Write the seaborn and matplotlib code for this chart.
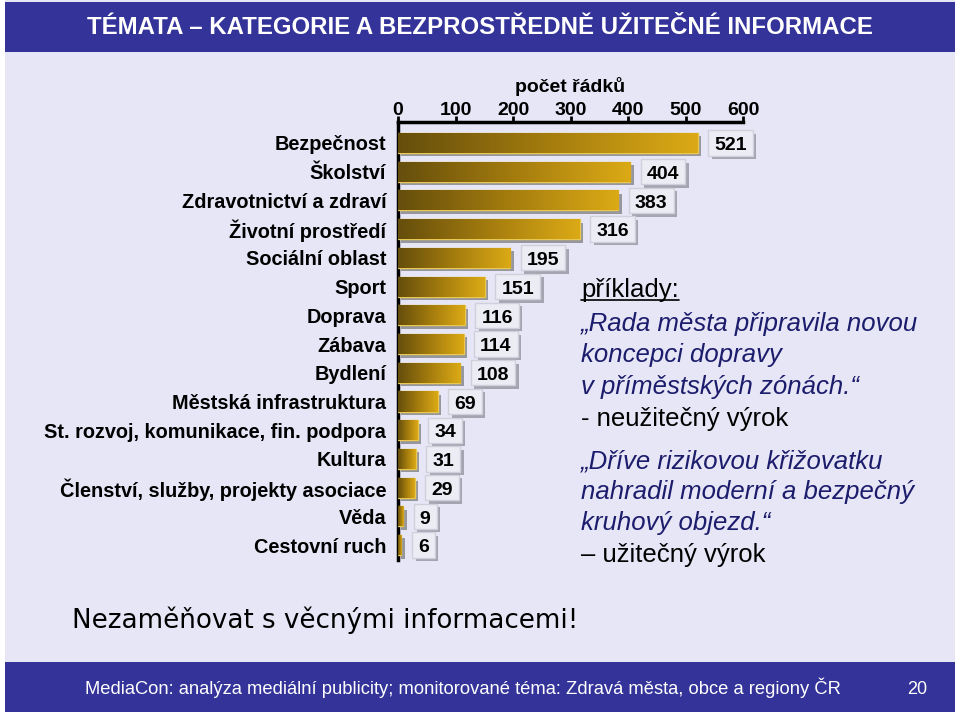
import numpy as np
import pandas as pd
import matplotlib
matplotlib.use("Agg")
import matplotlib.pyplot as plt
import seaborn as sns
from matplotlib.patches import Rectangle
from matplotlib.colors import LinearSegmentedColormap
import matplotlib.patheffects as pe
from matplotlib.lines import Line2D

# ---------------- data ----------------
categories = ["Bezpečnost", "Školství", "Zdravotnictví a zdraví", "Životní prostředí",
              "Sociální oblast", "Sport", "Doprava", "Zábava", "Bydlení",
              "Městská infrastruktura", "St. rozvoj, komunikace, fin. podpora",
              "Kultura", "Členství, služby, projekty asociace", "Věda", "Cestovní ruch"]
values = [521, 404, 383, 316, 195, 151, 116, 114, 108, 69, 34, 31, 29, 9, 6]
x_ticks = [0, 100, 200, 300, 400, 500, 600]
axis_title = "počet řádků"
slide_title = "TÉMATA – KATEGORIE A BEZPROSTŘEDNĚ UŽITEČNÉ INFORMACE"
note_heading = "příklady:"
quote1 = ["„Rada města připravila novou", "koncepci dopravy", "v příměstských zónách.“"]
verdict1 = "- neužitečný výrok"
quote2 = ["„Dříve rizikovou křižovatku", "nahradil moderní a bezpečný", "kruhový objezd.“"]
verdict2 = "– užitečný výrok"
warning = "Nezaměňovat s věcnými informacemi!"
footer = "MediaCon: analýza mediální publicity; monitorované téma: Zdravá města, obce a regiony ČR"
page_no = "20"

# ---------------- style ----------------
sns.set_theme(style="white")
plt.rcParams['font.family'] = ['Liberation Sans', 'DejaVu Sans']
plt.rcParams['text.color'] = 'black'
plt.rcParams['axes.labelcolor'] = 'black'
plt.rcParams['xtick.color'] = 'black'
plt.rcParams['ytick.color'] = 'black'

W, H = 960, 716
BLUE = "#333399"
LAV = "#E6E6F6"
NAVY = "#1c1c6c"

fig = plt.figure(figsize=(W / 100, H / 100), dpi=100, facecolor="white")


def frect(x0, y0, x1, y1, color):
    fig.patches.append(Rectangle((x0 / W, 1 - y1 / H), (x1 - x0) / W, (y1 - y0) / H,
                                 transform=fig.transFigure, facecolor=color,
                                 edgecolor="none", zorder=-10))


frect(5, 0, 955, 662, LAV)
frect(5, 2, 955, 52, BLUE)
frect(5, 662, 955, 712, BLUE)

fig.text(480 / W, 1 - 27 / H, slide_title, color="white", fontsize=17.3,
         fontweight="bold", ha="center", va="center")
fig.text(85 / W, 1 - 688 / H, footer, color="white", fontsize=13.2,
         ha="left", va="center")
fig.text(917 / W, 1 - 690 / H, page_no, color="white", fontsize=13,
         ha="center", va="center")
fig.text(72 / W, 1 - 620 / H, warning, color="black", fontsize=18.8,
         ha="left", va="center", family=["DejaVu Sans"])

# ---------------- chart ----------------
ax = fig.add_axes([398 / W, 1 - 560 / H, 345 / W, 438 / H])
ax.set_facecolor("none")

df = pd.DataFrame({"kategorie": categories, "pocet": values})
sns.barplot(data=df, x="pocet", y="kategorie", orient="h", color="#c8960f",
            width=0.7, ax=ax, zorder=3, edgecolor="#e8c850", linewidth=1.0)

cmap = LinearSegmentedColormap.from_list("gold", ["#654e0c", "#a47c0e", "#dcaa16"])
grad = np.linspace(0, 1, 256).reshape(1, -1)
for p in ax.patches:
    p.set_path_effects([pe.SimplePatchShadow(offset=(2.5, -2.5), shadow_rgbFace="#555555",
                                             alpha=0.55), pe.Normal()])
    x, y, w, h = p.get_x(), p.get_y(), p.get_width(), p.get_height()
    im = ax.imshow(grad, cmap=cmap, extent=[x, x + w, y + h, y], aspect="auto",
                   zorder=3.5, interpolation="bilinear")
    im.set_clip_path(p)

ax.set_xlim(0, 600)
ax.set_ylim(14.52, -0.73)

ax.xaxis.tick_top()
ax.xaxis.set_label_position("top")
ax.set_xticks(x_ticks)
ax.set_xticklabels([str(t) for t in x_ticks], fontsize=14, fontweight="bold")
ax.set_xlabel(axis_title, fontsize=14, fontweight="bold", labelpad=7)
ax.set_ylabel("")
ax.set_yticks(range(len(categories)))
ax.set_yticklabels(categories, fontsize=14.3, fontweight="bold")
ax.set_yticks(np.arange(-0.5, len(categories), 1.0), minor=True)
ax.tick_params(axis="y", which="major", length=0, pad=8.5)
ax.tick_params(axis="y", which="minor", length=5, width=2, direction="out", color="black")
ax.tick_params(axis="x", which="major", length=4, width=2, direction="out", pad=-2,
               color="black", top=True, bottom=False)
for s in ["right", "bottom"]:
    ax.spines[s].set_visible(False)
for s in ["top", "left"]:
    ax.spines[s].set_visible(True)
    ax.spines[s].set_linewidth(2.5)
    ax.spines[s].set_color("black")
ax.grid(False)

labels = []
for i, v in enumerate(values):
    t = ax.annotate(str(v), xy=(v, i), xytext=(12, -2), textcoords="offset points",
                    ha="left", va="center", fontsize=14, fontweight="bold",
                    color="black", zorder=6, annotation_clip=False)
    labels.append(t)

# right-hand notes
y_px = [290, 324, 355, 387, 419, 461, 492, 523, 555]
lines = [(note_heading, "normal", "black")] + \
        [(q, "italic", NAVY) for q in quote1] + [(verdict1, "normal", "black")] + \
        [(q, "italic", NAVY) for q in quote2] + [(verdict2, "normal", "black")]
texts = []
for (s, style, col), yp in zip(lines, y_px):
    texts.append(fig.text(581 / W, 1 - yp / H, s, fontsize=18.5, style=style, color=col,
                          ha="left", va="center"))

fig.canvas.draw()
r = fig.canvas.get_renderer()

# underline heading
bb = texts[0].get_window_extent(r)
fig.lines.append(Line2D([bb.x0 / W, bb.x1 / W], [(bb.y0 + 2) / H, (bb.y0 + 2) / H],
                        transform=fig.transFigure, color="black", lw=1.2))

# value boxes
inv = ax.transData.inverted()
for i, t in enumerate(labels):
    tb = t.get_window_extent(r)
    (x0, _), (x1, _) = inv.transform([(tb.x0 - 6, 0), (tb.x1 + 6, 0)])
    bh = 0.88
    box = Rectangle((x0, i - bh / 2), x1 - x0, bh, facecolor="#ececf4",
                    edgecolor="#d0d0dc", linewidth=1.0, zorder=5, clip_on=False)
    box.set_path_effects([pe.SimplePatchShadow(offset=(2.5, -2.5), shadow_rgbFace="#8a8a96",
                                               alpha=0.7), pe.Normal()])
    ax.add_patch(box)

fig.savefig("out.png", dpi=100, facecolor="white")
